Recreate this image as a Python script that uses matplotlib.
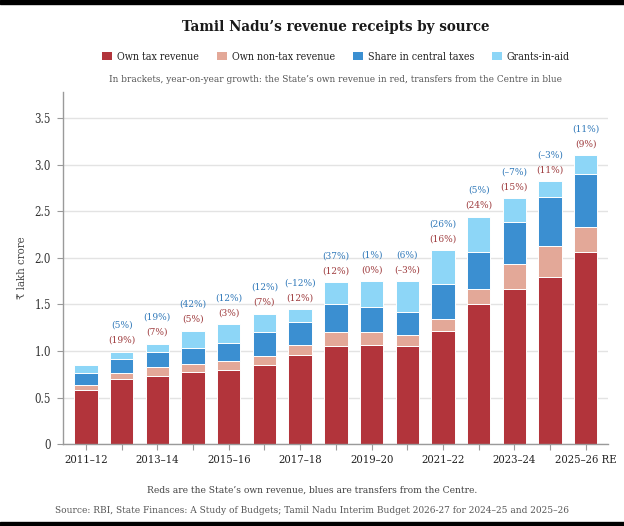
import matplotlib
matplotlib.use("Agg")
import matplotlib.pyplot as plt
import numpy as np
from matplotlib.patches import Patch, Rectangle

# ---------------- data ----------------
years = ["2011\u201312", "2012\u201313", "2013\u201314", "2014\u201315", "2015\u201316",
         "2016\u201317", "2017\u201318", "2018\u201319", "2019\u201320", "2020\u201321",
         "2021\u201322", "2022\u201323", "2023\u201324", "2024\u201325", "2025\u201326 RE"]
own_tax = [0.58, 0.70, 0.73, 0.78, 0.80, 0.85, 0.96, 1.06, 1.07, 1.06, 1.22, 1.50, 1.67, 1.80, 2.06]
own_non_tax = [0.06, 0.07, 0.10, 0.08, 0.09, 0.10, 0.11, 0.15, 0.14, 0.11, 0.12, 0.17, 0.26, 0.33, 0.27]
central_share = [0.13, 0.15, 0.16, 0.17, 0.20, 0.25, 0.24, 0.30, 0.26, 0.25, 0.38, 0.39, 0.46, 0.52, 0.57]
grants = [0.08, 0.07, 0.09, 0.19, 0.20, 0.20, 0.14, 0.23, 0.28, 0.33, 0.36, 0.38, 0.25, 0.17, 0.20]
own_growth = [None, 19, 7, 5, 3, 7, 12, 12, 0, -3, 16, 24, 15, 11, 9]
transfer_growth = [None, 5, 19, 42, 12, 12, -12, 37, 1, 6, 26, 5, -7, -3, 11]
series_names = ["Own tax revenue", "Own non-tax revenue", "Share in central taxes", "Grants-in-aid"]
ytick_vals = [0, 0.5, 1.0, 1.5, 2.0, 2.5, 3.0, 3.5]
ytick_labels = ["0", "0.5", "1.0", "1.5", "2.0", "2.5", "3.0", "3.5"]

colors = ["#b2343b", "#e3a898", "#3b8fd1", "#8dd6f7"]
red_lab = "#9e3b3d"
blue_lab = "#2f78b9"
SERIF = ["DejaVu Serif", "DejaVu Sans", "Noto Sans"]
plt.rcParams["font.family"] = SERIF
plt.rcParams["font.stretch"] = "condensed"

W, H = 624, 526
fig = plt.figure(figsize=(W / 100, H / 100), dpi=100)
renderer = fig.canvas.get_renderer()


def fit(text, target, weight="normal"):
    t = fig.text(0, 0, text, fontsize=10, weight=weight, family=SERIF)
    w = t.get_window_extent(renderer).width
    t.remove()
    return 10 * target / w


ax_l, ax_r, ax_t, ax_b = 62.7, 608.3, 92.0, 444.3
ax = fig.add_axes([ax_l / W, 1 - ax_b / H, (ax_r - ax_l) / W, (ax_b - ax_t) / H])

x = np.arange(len(years))
bottom = np.zeros(len(years))
handles = []
for vals, col, name in zip([own_tax, own_non_tax, central_share, grants], colors, series_names):
    ax.bar(x, vals, width=0.655, bottom=bottom, color=col, edgecolor="white",
           linewidth=0.7, zorder=2)
    bottom = bottom + np.array(vals)
    handles.append(Patch(facecolor=col, edgecolor="none", label=name))
totals = bottom


def fmt(g):
    return f"(\u2013{abs(g)}%)" if g < 0 else f"({g}%)"


fs_pct = fit("(24%)", 27)
for i in range(len(years)):
    if own_growth[i] is not None:
        ax.annotate(fmt(own_growth[i]), xy=(x[i], totals[i]), xytext=(0, 11.5 * 0.72),
                    textcoords="offset points", ha="center", va="center",
                    color=red_lab, fontsize=fs_pct, zorder=3)
    if transfer_growth[i] is not None:
        ax.annotate(fmt(transfer_growth[i]), xy=(x[i], totals[i]), xytext=(0, 26.5 * 0.72),
                    textcoords="offset points", ha="center", va="center",
                    color=blue_lab, fontsize=fs_pct, zorder=3)

ax.set_xlim(-0.65, 14.63)
ax.set_ylim(0, 3.78)
ax.set_yticks(ytick_vals)
fs_y = fit("3.5", 16.5)
ax.set_yticklabels(ytick_labels, fontsize=fs_y, color="#333333")
ax.set_xticks(x)
fs_x = fit("2011\u201312", 43.7)
ax.set_xticklabels([y if i % 2 == 0 else "" for i, y in enumerate(years)],
                   fontsize=fs_x, color="#222222")
ax.yaxis.grid(True, color="#e3e3e3", linewidth=1.0, zorder=0)
ax.set_axisbelow(True)
for s in ["top", "right"]:
    ax.spines[s].set_visible(False)
for s in ["left", "bottom"]:
    ax.spines[s].set_color("#9a9a9a")
    ax.spines[s].set_linewidth(1.0)
ax.tick_params(axis="x", length=4, color="#9a9a9a", pad=3.5)
ax.tick_params(axis="y", length=4, color="#9a9a9a", pad=4.6)

fig.text(21.7 / W, 1 - 268 / H, "\u20b9 lakh crore", rotation=90, ha="center", va="center",
         fontsize=fit("\u20b9 lakh crore", 63), color="#444444")

# title, legend, subtitle
fig.text(335.5 / W, 1 - 27.5 / H, "Tamil Nadu\u2019s revenue receipts by source", ha="center",
         va="center", weight="bold", color="#1a1a1a",
         fontsize=fit("Tamil Nadu\u2019s revenue receipts by source", 307.6, "bold"))

fs_leg = fit("Own tax revenue", 82)
px = fs_leg * 100 / 72
leg = fig.legend(handles=handles, loc="center", bbox_to_anchor=(336 / W, 1 - 57 / H),
                 ncol=4, frameon=False, fontsize=fs_leg, handlelength=10 / px,
                 handleheight=8 / px, handletextpad=5 / px, columnspacing=17.7 / px,
                 borderpad=0, borderaxespad=0)
for t in leg.get_texts():
    t.set_color("#222222")

sub = "In brackets, year-on-year growth: the State\u2019s own revenue in red, transfers from the Centre in blue"
fig.text(335.5 / W, 1 - 79.5 / H, sub, ha="center", va="center", color="#555555",
         fontsize=fit(sub, 447))

cap = "Reds are the State\u2019s own revenue, blues are transfers from the Centre."
fig.text(312 / W, 1 - 490 / H, cap, ha="center", va="center", color="#444444",
         fontsize=fit(cap, 327))
src = ("Source: RBI, State Finances: A Study of Budgets; Tamil Nadu Interim Budget 2026-27 "
       "for 2024\u201325 and 2025\u201326")
fig.text(312 / W, 1 - 510.5 / H, src, ha="center", va="center", color="#555555",
         fontsize=fit(src, 513.5))

# black frame bands
fig.patches.append(Rectangle((0, 1 - 4 / H), 1, 4 / H, transform=fig.transFigure,
                             color="black", zorder=10))
fig.patches.append(Rectangle((0, 0), 1, 4 / H, transform=fig.transFigure,
                             color="black", zorder=10))

fig.savefig("out.png", dpi=100)
